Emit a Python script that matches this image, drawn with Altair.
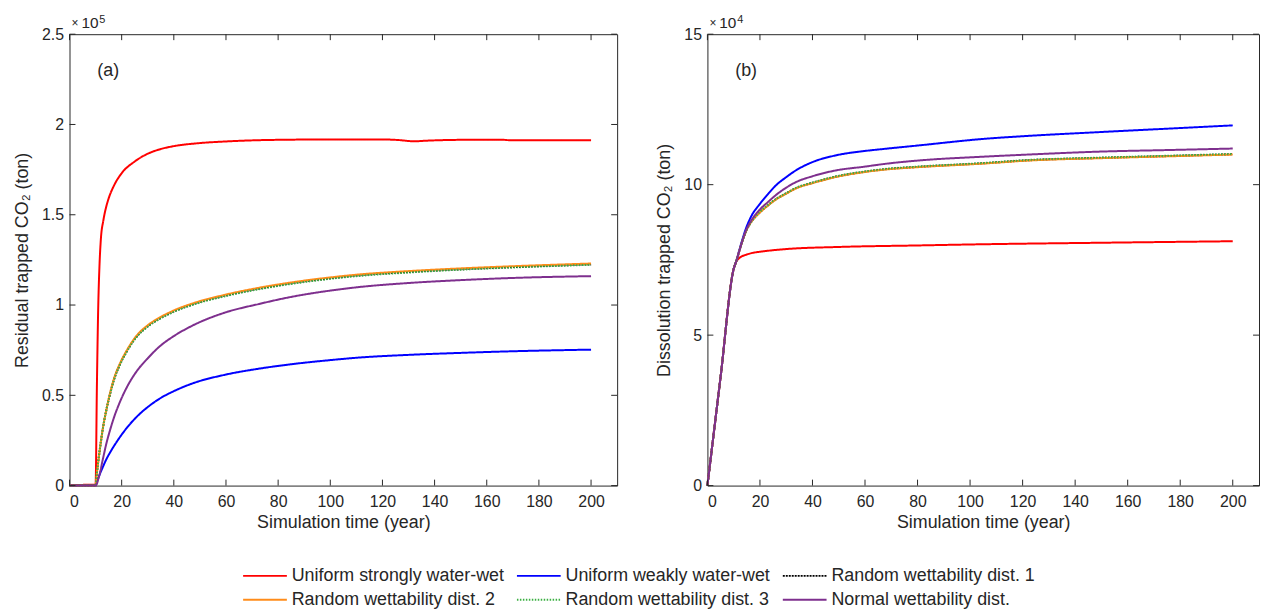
import altair as alt
import pandas as pd

FONT = "Liberation Sans"
AX = "#262626"

SERIES = [
    "Uniform strongly water-wet",
    "Uniform weakly water-wet",
    "Random wettability dist. 1",
    "Random wettability dist. 2",
    "Random wettability dist. 3",
    "Normal wettability dist.",
]
COLORS = ["#ff0000", "#0000ff", "#000000", "#ff8c1a", "#3cb043", "#7e2f8e"]
DASHES = [[1, 0], [1, 0], [2, 1], [1, 0], [1.5, 1.5], [1, 0]]
WIDTHS = [2, 2, 1, 2, 1.3, 2]

X_TICKS = [0, 20, 40, 60, 80, 100, 120, 140, 160, 180, 200]
A_TICKS = [0, 0.5, 1, 1.5, 2, 2.5]
B_TICKS = [0, 5, 10, 15]

# ---------- panel (a): residual trapped CO2, x 1e5 ton ----------
a_red_t = [0, 5, 10, 10.5, 11, 11.5, 12, 13, 14, 15, 17, 20, 25, 30, 35, 40, 50, 60, 70, 80,
           100, 120, 126, 132, 138, 150, 165, 170, 185, 200]
a_red_v = [0.003, 0.004, 0.005, 0.55, 0.98, 1.22, 1.36, 1.47, 1.54, 1.59, 1.66, 1.73, 1.795,
           1.838, 1.864, 1.88, 1.897, 1.906, 1.912, 1.915, 1.917, 1.917, 1.914, 1.907, 1.911,
           1.915, 1.916, 1.912, 1.912, 1.912]

a_t = [0, 10, 10.5, 11, 12, 12.4, 13, 14, 15.5, 17, 19.3, 22, 25.7, 30, 34.5, 40, 47, 60,
       72.4, 85, 100, 110, 130, 150, 170, 200]
a_blue_v = [0, 0, 0.02, 0.04, 0.077, 0.09, 0.11, 0.142, 0.182, 0.218, 0.268, 0.32, 0.38,
            0.435, 0.481, 0.523, 0.565, 0.615, 0.647, 0.672, 0.695, 0.708, 0.724, 0.735,
            0.744, 0.753]
a_rnd1_v = [0, 0, 0.07, 0.13, 0.24, 0.28, 0.335, 0.41, 0.505, 0.585, 0.67, 0.745, 0.825,
            0.883, 0.925, 0.965, 1.003, 1.053, 1.09, 1.12, 1.148, 1.163, 1.183, 1.198, 1.21,
            1.225]
a_rnd2_v = [0, 0, 0.07, 0.13, 0.24, 0.28, 0.335, 0.41, 0.51, 0.59, 0.675, 0.75, 0.83,
            0.888, 0.93, 0.97, 1.008, 1.058, 1.095, 1.125, 1.153, 1.168, 1.188, 1.203, 1.215,
            1.23]
a_rnd3_v = [0, 0, 0.07, 0.13, 0.24, 0.28, 0.335, 0.41, 0.503, 0.583, 0.668, 0.743, 0.822,
            0.88, 0.922, 0.962, 1.0, 1.05, 1.087, 1.117, 1.145, 1.16, 1.18, 1.196, 1.208,
            1.223]
a_norm_v = [0, 0, 0.01, 0.035, 0.09, 0.12, 0.16, 0.225, 0.305, 0.375, 0.462, 0.545, 0.632,
            0.705, 0.77, 0.828, 0.885, 0.96, 1.005, 1.045, 1.08, 1.098, 1.122, 1.138, 1.15,
            1.16]

# ---------- panel (b): dissolution trapped CO2, x 1e4 ton ----------
b_red_t = [0, 5, 10, 11, 12, 15, 17, 20, 30, 50, 80, 105, 150, 200]
b_red_v = [0, 3.6, 7.2, 7.45, 7.55, 7.68, 7.73, 7.77, 7.86, 7.93, 7.98, 8.02, 8.07, 8.12]

b_t = [0, 5, 10, 11, 12, 14.7, 17, 19.7, 23, 26, 30, 33.6, 40, 48.7, 60, 67.5, 80, 105, 122,
       150, 175, 200]
b_blue_v = [0, 3.6, 7.2, 7.47, 7.78, 8.55, 9.0, 9.33, 9.68, 9.97, 10.25, 10.47, 10.75, 10.97,
            11.12, 11.19, 11.3, 11.52, 11.62, 11.75, 11.86, 11.97]
b_rnd1_v = [0, 3.6, 7.2, 7.45, 7.75, 8.45, 8.8, 9.06, 9.31, 9.51, 9.71, 9.88, 10.06, 10.26,
            10.43, 10.51, 10.59, 10.71, 10.81, 10.89, 10.95, 11.01]
b_rnd2_v = [0, 3.6, 7.2, 7.45, 7.75, 8.45, 8.8, 9.05, 9.3, 9.5, 9.7, 9.87, 10.05, 10.25,
            10.42, 10.5, 10.58, 10.7, 10.8, 10.88, 10.94, 11.0]
b_rnd3_v = [0, 3.6, 7.2, 7.45, 7.75, 8.45, 8.8, 9.07, 9.32, 9.52, 9.72, 9.89, 10.07, 10.27,
            10.44, 10.52, 10.6, 10.72, 10.82, 10.9, 10.96, 11.02]
b_norm_v = [0, 3.6, 7.2, 7.45, 7.75, 8.48, 8.85, 9.15, 9.42, 9.65, 9.9, 10.08, 10.28, 10.47,
            10.6, 10.69, 10.8, 10.93, 11.0, 11.1, 11.15, 11.2]


def long_df(times, values):
    rows = []
    for name, ts, vs in zip(SERIES, times, values):
        for t, v in zip(ts, vs):
            rows.append({"series": name, "t": t, "v": v})
    return pd.DataFrame(rows)


df_a = long_df([a_red_t, a_t, a_t, a_t, a_t, a_t],
               [a_red_v, a_blue_v, a_rnd1_v, a_rnd2_v, a_rnd3_v, a_norm_v])
df_b = long_df([b_red_t, b_t, b_t, b_t, b_t, b_t],
               [b_red_v, b_blue_v, b_rnd1_v, b_rnd2_v, b_rnd3_v, b_norm_v])

W_A, W_B, H = 552, 556, 455
TICK = 6

# long, flat line symbol for the legend (unit square -1..1 scaled by sqrt(size))
SYM_SIZE = 324          # sqrt = 18 px, r = 9 px
SYM_PATH = "M-1,0H3.9"  # spans 0..44 px from entry start


def panel(df, ydom, yticks, ytitle, tag, expo, width):
    x_enc = alt.X("t:Q", scale=alt.Scale(domain=[0, 210], nice=False, zero=False),
                  axis=alt.Axis(values=X_TICKS, title="Simulation time (year)", domain=False,
                                ticks=False, grid=False, labelPadding=8, titlePadding=4,
                                format="d"))
    y_enc = alt.Y("v:Q", scale=alt.Scale(domain=ydom, nice=False, zero=False),
                  axis=alt.Axis(values=yticks, title=ytitle, domain=False, ticks=False,
                                grid=False, labelPadding=6, titlePadding=10, format="~g"))
    lines = alt.Chart(df).mark_line(interpolate="monotone").encode(
        x=x_enc,
        y=y_enc,
        color=alt.Color("series:N", scale=alt.Scale(domain=SERIES, range=COLORS),
                        sort=SERIES,
                        legend=alt.Legend(title=None, orient="none", legendX=174, legendY=536,
                                          direction="horizontal", columns=3,
                                          symbolType=SYM_PATH, symbolSize=SYM_SIZE,
                                          labelFontSize=18, labelFont=FONT, labelColor=AX,
                                          columnPadding=8, rowPadding=5, labelLimit=400,
                                          labelOffset=30)),
        strokeDash=alt.StrokeDash("series:N", scale=alt.Scale(domain=SERIES, range=DASHES),
                                  sort=SERIES, legend=alt.Legend(title=None)),
        strokeWidth=alt.StrokeWidth("series:N", scale=alt.Scale(domain=SERIES, range=WIDTHS),
                                    sort=SERIES, legend=alt.Legend(title=None)),
    )
    xt = pd.DataFrame({"t": X_TICKS})
    yt = pd.DataFrame({"v": yticks})
    top = alt.Chart(xt).mark_rule(color=AX, strokeWidth=1).encode(
        x=x_enc, y=alt.value(0), y2=alt.value(TICK))
    bot = alt.Chart(xt).mark_rule(color=AX, strokeWidth=1).encode(
        x=x_enc, y=alt.value(H), y2=alt.value(H - TICK))
    left = alt.Chart(yt).mark_rule(color=AX, strokeWidth=1).encode(
        y=y_enc, x=alt.value(0), x2=alt.value(TICK))
    right = alt.Chart(yt).mark_rule(color=AX, strokeWidth=1).encode(
        y=y_enc, x=alt.value(width), x2=alt.value(width - TICK))
    lab = alt.Chart(pd.DataFrame({"s": [tag]})).mark_text(
        align="left", baseline="middle", fontSize=18, font=FONT, color=AX).encode(
        x=alt.value(28), y=alt.value(37), text="s:N")
    e0 = alt.Chart(pd.DataFrame({"s": ["\u00d7"]})).mark_text(
        align="left", baseline="alphabetic", fontSize=12, font=FONT, color=AX).encode(
        x=alt.value(2), y=alt.value(-7), text="s:N")
    e1 = alt.Chart(pd.DataFrame({"s": ["10"]})).mark_text(
        align="left", baseline="alphabetic", fontSize=15.5, font=FONT, color=AX).encode(
        x=alt.value(12), y=alt.value(-6), text="s:N")
    e2 = alt.Chart(pd.DataFrame({"s": [expo]})).mark_text(
        align="left", baseline="alphabetic", fontSize=11, font=FONT, color=AX).encode(
        x=alt.value(30), y=alt.value(-11), text="s:N")
    return alt.layer(lines, top, bot, left, right, lab, e0, e1, e2).properties(
        width=width, height=H)


pa = panel(df_a, [0, 2.5], A_TICKS, "Residual trapped CO\u2082 (ton)", "(a)", "5", W_A)
pb = panel(df_b, [0, 15], B_TICKS, "Dissolution trapped CO\u2082 (ton)", "(b)", "4", W_B)

chart = alt.hconcat(pa, pb, spacing=37).resolve_scale(
    color="shared", strokeDash="shared", strokeWidth="shared"
).properties(
    padding={"left": 5, "top": 3, "right": 0, "bottom": 0}
).configure(background="white").configure_view(
    stroke=AX, strokeWidth=1
).configure_axis(
    labelFont=FONT, titleFont=FONT, labelFontSize=16, titleFontSize=18,
    labelColor=AX, titleColor=AX, titleFontWeight="normal"
)

chart.save("out.html", embed_options={"renderer": "svg", "actions": False})
